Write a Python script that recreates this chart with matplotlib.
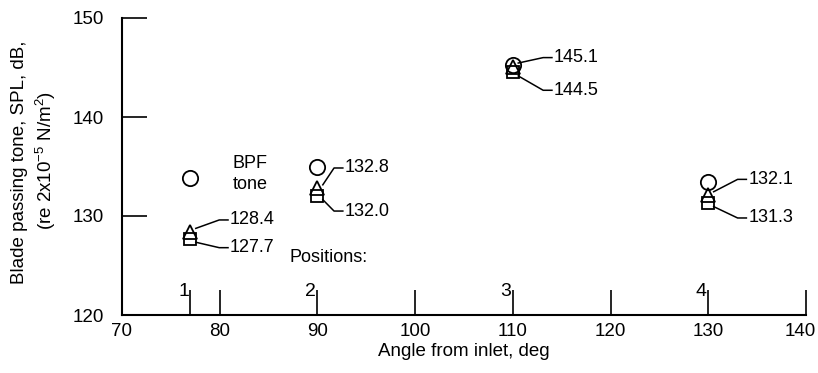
import matplotlib
matplotlib.use("Agg")
import matplotlib.pyplot as plt
from matplotlib.transforms import ScaledTranslation

# Measured blade passing tone levels at four microphone positions
angles = [77, 90, 110, 130]
position_names = ["1", "2", "3", "4"]
spl_circle = [133.8, 134.9, 145.3, 133.4]
spl_triangle = [128.4, 132.8, 145.1, 132.1]
spl_square = [127.7, 132.0, 144.5, 131.3]

x_ticks = [70, 80, 90, 100, 110, 120, 130, 140]
y_ticks = [120, 130, 140, 150]

# label placement relative to each mark (data units)
tri_offsets = [(4.05, 1.2), (2.8, 2.05), (4.2, 0.9), (4.1, 1.6)]
sq_offsets = [(4.05, -0.9), (2.8, -1.5), (4.2, -1.8), (4.1, -1.5)]

FONT = ["Liberation Sans", "DejaVu Sans"]
plt.rcParams["font.family"] = FONT
plt.rcParams["mathtext.fontset"] = "custom"
plt.rcParams["mathtext.rm"] = "Liberation Sans"
plt.rcParams["mathtext.it"] = "Liberation Sans"

fig = plt.figure(figsize=(8.18, 3.73), dpi=100)
ax = fig.add_axes([122 / 818, 58 / 373, 684 / 818, 297 / 373])

ax.set_xlim(70, 140)
ax.set_ylim(120, 150)
for side in ("top", "right"):
    ax.spines[side].set_visible(False)
for side in ("left", "bottom"):
    ax.spines[side].set_linewidth(1.5)
    ax.spines[side].set_color("black")

ax.set_xticks(x_ticks + [angles[0]])
ax.set_xticklabels([str(v) for v in x_ticks] + [""])
ax.set_yticks(y_ticks)
ax.tick_params(axis="both", direction="in", length=18, width=1.2,
               colors="black", labelsize=13.5)
ax.tick_params(axis="x", pad=6)
ax.tick_params(axis="y", pad=13)

# keep the last x tick label inside the figure edge
last_label = ax.get_xticklabels()[len(x_ticks) - 1]
last_label.set_transform(last_label.get_transform()
                         + ScaledTranslation(-6 / 100, 0, fig.dpi_scale_trans))

ms = dict(markerfacecolor="none", markeredgecolor="black",
          markeredgewidth=1.3, linestyle="none", clip_on=False)
ax.plot(angles, spl_circle, marker="o", markersize=11, **ms)
ax.plot(angles, spl_triangle, marker="^", markersize=10, **ms)
ax.plot(angles, spl_square, marker="s", markersize=9, **ms)


def leader(x0, y0, tx, ty):
    # slanted stroke from the mark, then a short level run up to the text
    start_x = x0 + 0.55
    start_y = y0 + (0.35 if ty > y0 else -0.35)
    ax.plot([start_x, tx - 1.1, tx - 0.2], [start_y, ty, ty],
            color="black", lw=1.1)


for x, v, (dx, dy) in zip(angles, spl_triangle, tri_offsets):
    tx, ty = x + dx, v + dy
    leader(x, v, tx, ty)
    ax.text(tx, ty, f"{v:.1f}", ha="left", va="center", fontsize=13)

for x, v, (dx, dy) in zip(angles, spl_square, sq_offsets):
    tx, ty = x + dx, v + dy
    leader(x, v, tx, ty)
    ax.text(tx, ty, f"{v:.1f}", ha="left", va="center", fontsize=13)

# microphone position numbers beside their ticks
for x, name in zip(angles, position_names):
    ax.text(x - 0.15, 121.9, name, ha="right", va="baseline", fontsize=14)

ax.text(87.1, 125.35, "Positions:", ha="left", va="baseline", fontsize=13)
ax.text(83.1, 134.2, "BPF\ntone", ha="center", va="center",
        fontsize=13, linespacing=1.3)

ax.set_xlabel("Angle from inlet, deg", fontsize=13.5, labelpad=2)

fig.text(20 / 818, 1 - 162 / 373, "Blade passing tone, SPL, dB,",
         rotation=90, ha="center", va="center", fontsize=13.5)
fig.text(46 / 818, 1 - 160 / 373,
         r"(re 2x10$^{-5}$ N/m$^{2}$)",
         rotation=90, ha="center", va="center", fontsize=13.5)

fig.savefig("out.png", dpi=100)
